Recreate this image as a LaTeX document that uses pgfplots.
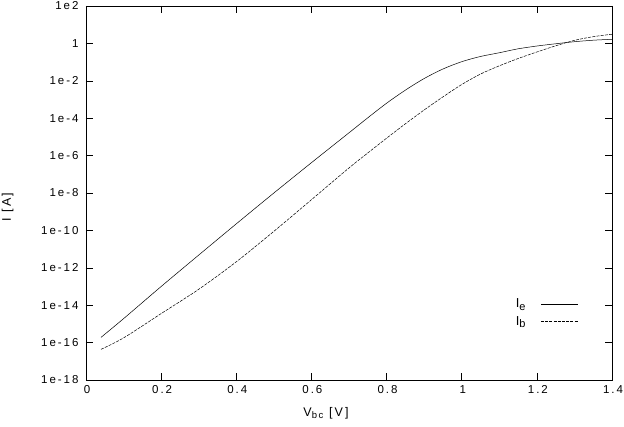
\documentclass[border=0pt]{standalone}
\usepackage{fontspec}
\setmainfont{Liberation Sans}
\newfontfamily\gfont{Liberation Sans}[LetterSpace=17]
\newcommand\sub[2][9.5]{\raisebox{-2.6pt}{\fontsize{#1}{11}\selectfont #2}}
\usepackage{pgfplots}
\pgfplotsset{compat=1.18}
\begin{document}
\begin{tikzpicture}
\useasboundingbox (-86pt,-47pt) rectangle (538pt,380pt);
\begin{axis}[
  at={(0,0)}, anchor=south west,
  scale only axis, width=526pt, height=374pt,
  xmin=0, xmax=1.4, ymin=1e-18, ymax=1e2,
  ymode=log,
  xtick={0,0.2,0.4,0.6,0.8,1,1.2,1.4},
  xticklabels={0,0.2,0.4,0.6,0.8,1,1.2,1.4},
  ytick={1e-18,1e-16,1e-14,1e-12,1e-10,1e-8,1e-6,1e-4,1e-2,1,1e2},
  yticklabels={1e-18,1e-16,1e-14,1e-12,1e-10,1e-8,1e-6,1e-4,1e-2,1,1e2},
  minor tick num=0, yminorticks=false,
  tick align=inside, major tick length=7pt,
  tick style={black, line width=0.5pt},
  axis line style={black, line width=0.6pt},
  tick label style={font=\gfont\fontsize{11.5}{13}\selectfont},
  xticklabel style={yshift=-2pt, xshift=1pt},
  yticklabel style={xshift=-4pt},
  xlabel={V\sub{bc} [V]},
  ylabel={I [A]},
  label style={font=\gfont\fontsize{12.5}{14}\selectfont},
  xlabel style={at={(axis description cs:0.4563,-0.0882)}, anchor=center},
  ylabel style={at={(axis description cs:-0.1492,0.4626)}, anchor=center},
  legend plot pos=right,
  legend cell align=right,
  legend style={draw=none, fill=none, at={(0.942,0.226)}, anchor=north east,
    font=\gfont\fontsize{13}{14}\selectfont, row sep=5pt,
    nodes={inner sep=1pt}},
  legend image code/.code={\path (0cm,0cm); \draw[#1] (0.5cm,0cm) -- (1.8cm,0cm);},
]
\addplot[black, line width=0.5pt, smooth, tension=0.5] coordinates {
(0.04,1.91e-16) (0.1,1.91e-15) (0.2,1.0e-13) (0.3,4.79e-12) (0.4,2.24e-10)
(0.5,1.0e-8) (0.6,4.17e-7) (0.7,1.66e-5) (0.75,1.05e-4) (0.8,6.31e-4)
(0.85,3.16e-3) (0.9,1.32e-2) (0.95,4.27e-2) (1.0,0.105) (1.05,0.200)
(1.1,0.316) (1.15,0.513) (1.2,0.724) (1.25,0.955) (1.3,1.23) (1.35,1.48) (1.4,1.66)
};
\addlegendentry{I\sub[11]{e}}
\addplot[black, line width=0.5pt, dash pattern=on 3pt off 1.2pt, smooth, tension=0.5] coordinates {
(0.04,4.37e-17) (0.1,1.78e-16) (0.2,3.55e-15) (0.3,7.08e-14) (0.4,2.09e-12)
(0.5,8.91e-11) (0.6,4.37e-9) (0.7,2.19e-7) (0.75,1.38e-6) (0.8,8.51e-6)
(0.85,5.01e-5) (0.9,2.75e-4) (0.95,1.38e-3) (1.0,6.31e-3) (1.05,2.29e-2)
(1.1,6.31e-2) (1.15,0.155) (1.2,0.347) (1.25,0.741) (1.3,1.45) (1.35,2.29) (1.4,3.09)
};
\addlegendentry{I\sub[11]{b}}
\end{axis}
\end{tikzpicture}
\end{document}
